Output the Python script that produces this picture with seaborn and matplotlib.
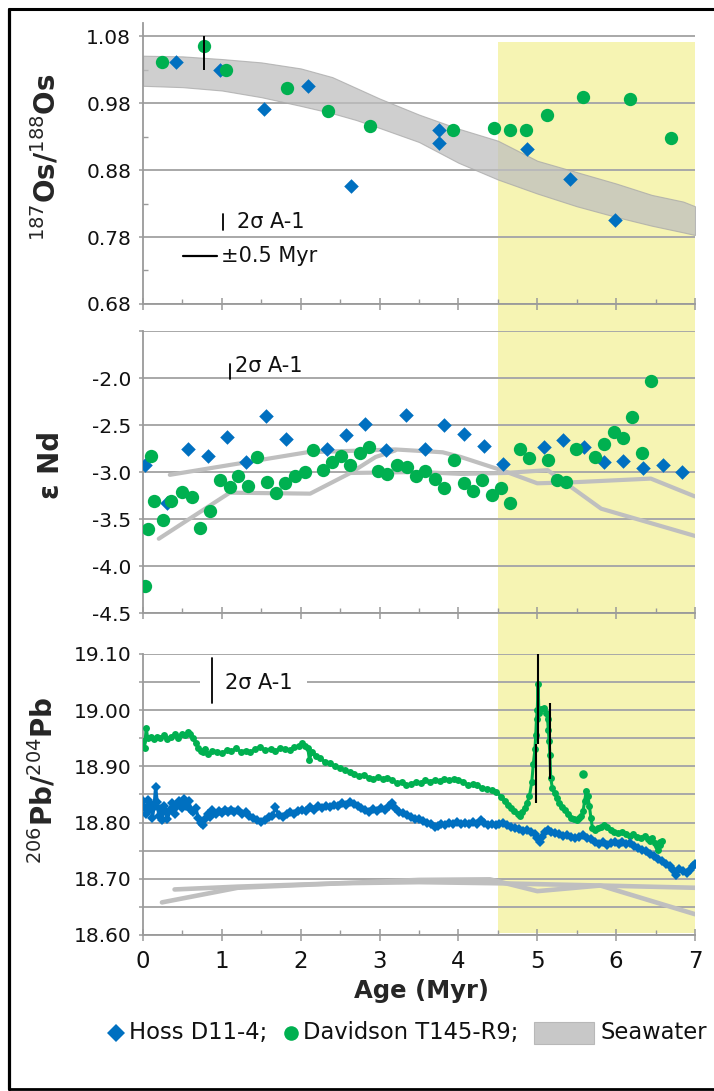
import numpy as np
import matplotlib
matplotlib.use("Agg")
import matplotlib.pyplot as plt
import seaborn as sns
from matplotlib.ticker import FixedLocator, FixedFormatter
from matplotlib.lines import Line2D
from matplotlib.patches import Rectangle
from matplotlib.transforms import blended_transform_factory
from matplotlib.offsetbox import HPacker, TextArea, DrawingArea, AnchoredOffsetbox

# ---------------- data ----------------
# 187Os/188Os
hoss_os_age = [0.42, 0.97, 1.53, 2.09, 2.64, 3.75, 3.75, 4.87, 5.42, 5.98]
hoss_os = [1.042, 1.030, 0.972, 1.005, 0.856, 0.940, 0.920, 0.911, 0.867, 0.806]
dav_os_age = [0.245, 0.77, 1.05, 1.82, 2.35, 2.875, 3.935, 4.45, 4.655, 4.855, 5.12, 5.58, 6.18, 6.69]
dav_os = [1.041, 1.066, 1.030, 1.003, 0.968, 0.946, 0.940, 0.943, 0.940, 0.940, 0.962, 0.989, 0.987, 0.928]
os_err_age = [0.77]
os_err_low = [1.030]
os_err_high = [1.080]
os_sw_age = [0.0, 0.5, 1.0, 1.5, 2.0, 2.4, 2.7, 3.0, 3.5, 4.0, 4.5, 5.0, 5.5, 6.0, 6.45, 6.85, 7.0]
os_sw_high = [1.051, 1.050, 1.046, 1.041, 1.032, 1.019, 1.003, 0.987, 0.963, 0.942, 0.924, 0.894,
              0.877, 0.860, 0.843, 0.833, 0.826]
os_sw_low = [1.006, 1.004, 0.999, 0.989, 0.976, 0.965, 0.955, 0.943, 0.922, 0.891, 0.866, 0.845,
             0.826, 0.810, 0.797, 0.787, 0.783]

# epsilon Nd
hoss_nd_age = [0.03, 0.30, 0.57, 0.82, 1.06, 1.31, 1.56, 1.81, 2.33, 2.58, 2.82, 3.08, 3.33,
               3.58, 3.82, 4.07, 4.32, 4.57, 5.08, 5.33, 5.59, 5.84, 6.09, 6.34, 6.59, 6.84]
hoss_nd = [-2.92, -3.33, -2.76, -2.83, -2.63, -2.89, -2.40, -2.65, -2.76, -2.61, -2.49, -2.77, -2.39,
           -2.75, -2.50, -2.60, -2.72, -2.91, -2.73, -2.66, -2.73, -2.89, -2.88, -2.96, -2.93, -3.00]
dav_nd_age = [0.02, 0.06, 0.10, 0.14, 0.25, 0.36, 0.49, 0.62, 0.72, 0.85, 0.97, 1.10, 1.21, 1.33,
              1.44, 1.57, 1.69, 1.80, 1.93, 2.05, 2.16, 2.28, 2.40, 2.51, 2.62, 2.75, 2.87, 2.98,
              3.10, 3.22, 3.35, 3.46, 3.58, 3.70, 3.82, 3.94, 4.07, 4.18, 4.30, 4.42, 4.54, 4.65,
              4.78, 4.90, 5.13, 5.25, 5.37, 5.49, 5.73, 5.85, 5.97, 6.09, 6.20, 6.33, 6.44]
dav_nd = [-4.21, -3.61, -2.83, -3.31, -3.51, -3.31, -3.21, -3.27, -3.60, -3.41, -3.09, -3.16, -3.04, -3.15,
          -2.84, -3.11, -3.22, -3.12, -3.04, -3.00, -2.77, -2.98, -2.89, -2.83, -2.92, -2.80, -2.73, -2.99,
          -3.02, -2.92, -2.95, -3.04, -2.99, -3.07, -3.17, -2.87, -3.12, -3.20, -3.09, -3.24, -3.17, -3.33,
          -2.75, -2.85, -2.87, -3.09, -3.11, -2.75, -2.84, -2.70, -2.57, -2.64, -2.42, -2.80, -2.03]
nd_sw_a_age = [0.34, 2.08, 3.20, 3.80, 4.03, 4.58, 5.00, 5.43, 6.44, 7.00]
nd_sw_a = [-3.03, -2.79, -2.76, -2.79, -2.84, -2.99, -3.12, -3.11, -3.07, -3.26]
nd_sw_b_age = [0.20, 1.10, 2.12, 2.63, 3.50, 4.03, 4.60, 5.13, 5.38, 5.81, 7.00]
nd_sw_b = [-3.71, -3.22, -3.23, -3.01, -3.00, -3.02, -3.01, -2.98, -3.13, -3.39, -3.68]
nd_sw_c_age = [2.63, 2.95, 3.20]
nd_sw_c = [-3.01, -2.84, -2.77]

# 206Pb/204Pb
dav_pb_age = [0.00, 0.02, 0.04, 0.06, 0.10, 0.14, 0.18, 0.22, 0.27, 0.31, 0.36, 0.40, 0.44, 0.49, 0.53,
              0.57, 0.60, 0.63, 0.67, 0.70, 0.73, 0.76, 0.79, 0.83, 0.88, 0.94, 1.00, 1.06, 1.12, 1.18,
              1.24, 1.30, 1.36, 1.42, 1.48, 1.55, 1.62, 1.68, 1.74, 1.80, 1.86, 1.92, 1.98, 2.02, 2.06,
              2.09, 2.11, 2.14, 2.19, 2.25, 2.31, 2.37, 2.43, 2.50, 2.56, 2.62, 2.68, 2.74, 2.80, 2.86,
              2.92, 2.98, 3.04, 3.10, 3.16, 3.22, 3.28, 3.34, 3.40, 3.46, 3.52, 3.58, 3.64, 3.70, 3.76,
              3.82, 3.88, 3.94, 4.00, 4.06, 4.12, 4.18, 4.24, 4.30, 4.36, 4.42, 4.48, 4.54, 4.59, 4.63,
              4.67, 4.71, 4.75, 4.78, 4.81, 4.84, 4.87, 4.90, 4.93, 4.95, 4.97, 4.98, 4.99, 5.00, 5.01,
              5.02, 5.05, 5.08, 5.11, 5.13, 5.14, 5.15, 5.16, 5.17, 5.19, 5.22, 5.25, 5.28, 5.31, 5.35,
              5.39, 5.43, 5.47, 5.50, 5.53, 5.56, 5.58, 5.60, 5.62, 5.64, 5.66, 5.68, 5.70, 5.73, 5.77,
              5.81, 5.85, 5.89, 5.93, 5.97, 6.02, 6.07, 6.12, 6.17, 6.22, 6.27, 6.32, 6.36, 6.40, 6.43,
              6.46, 6.49, 6.52, 6.55, 6.58, 6.56, 6.53]
dav_pb = [18.945, 18.933, 18.968, 18.950, 18.952, 18.948, 18.953, 18.950, 18.955, 18.949, 18.952, 18.957, 18.951, 18.958, 18.955,
          18.961, 18.958, 18.950, 18.942, 18.933, 18.927, 18.925, 18.930, 18.922, 18.928, 18.926, 18.923, 18.929, 18.927, 18.932,
          18.926, 18.928, 18.925, 18.931, 18.934, 18.929, 18.931, 18.927, 18.933, 18.931, 18.929, 18.934, 18.937, 18.941, 18.937,
          18.932, 18.912, 18.925, 18.918, 18.914, 18.908, 18.906, 18.900, 18.897, 18.893, 18.890, 18.886, 18.883, 18.885, 18.880,
          18.877, 18.881, 18.878, 18.880, 18.876, 18.870, 18.873, 18.866, 18.869, 18.872, 18.871, 18.875, 18.873, 18.876, 18.874,
          18.878, 18.875, 18.877, 18.876, 18.873, 18.867, 18.868, 18.866, 18.861, 18.860, 18.858, 18.855, 18.846, 18.838, 18.832,
          18.826, 18.821, 18.815, 18.812, 18.818, 18.826, 18.835, 18.847, 18.872, 18.905, 18.930, 18.955, 18.985, 19.000, 19.047,
          18.995, 19.002, 19.004, 18.995, 18.985, 18.965, 18.945, 18.920, 18.880, 18.862, 18.852, 18.843, 18.835, 18.828, 18.822,
          18.815, 18.809, 18.806, 18.804, 18.808, 18.812, 18.820, 18.838, 18.856, 18.848, 18.830, 18.808, 18.790, 18.786, 18.790,
          18.793, 18.795, 18.792, 18.786, 18.783, 18.781, 18.783, 18.779, 18.776, 18.779, 18.774, 18.772, 18.776, 18.770, 18.768,
          18.772, 18.764, 18.759, 18.760, 18.768, 18.766, 18.752]
dav_pb_iso_age = [5.58]
dav_pb_iso = [18.886]
hoss_pb_age = [0.00, 0.02, 0.04, 0.06, 0.08, 0.10, 0.12, 0.14, 0.16, 0.18, 0.20, 0.22, 0.24, 0.27, 0.29,
               0.31, 0.34, 0.37, 0.40, 0.43, 0.46, 0.49, 0.52, 0.55, 0.58, 0.61, 0.64, 0.67, 0.70, 0.73,
               0.76, 0.79, 0.82, 0.85, 0.88, 0.92, 0.96, 1.00, 1.04, 1.08, 1.12, 1.16, 1.20, 1.25, 1.30,
               1.35, 1.40, 1.45, 1.50, 1.55, 1.60, 1.64, 1.68, 1.72, 1.77, 1.82, 1.87, 1.92, 1.97, 2.02,
               2.07, 2.12, 2.17, 2.22, 2.27, 2.32, 2.37, 2.42, 2.47, 2.52, 2.57, 2.62, 2.67, 2.72, 2.77,
               2.82, 2.87, 2.92, 2.97, 3.02, 3.07, 3.12, 3.16, 3.20, 3.25, 3.30, 3.35, 3.40, 3.45, 3.50,
               3.55, 3.60, 3.65, 3.70, 3.74, 3.78, 3.83, 3.88, 3.93, 3.98, 4.03, 4.08, 4.13, 4.18, 4.23,
               4.28, 4.32, 4.37, 4.42, 4.47, 4.52, 4.57, 4.62, 4.67, 4.72, 4.77, 4.82, 4.87, 4.92, 4.97,
               5.00, 5.03, 5.06, 5.10, 5.14, 5.18, 5.23, 5.28, 5.33, 5.38, 5.43, 5.48, 5.53, 5.58, 5.63,
               5.68, 5.73, 5.78, 5.83, 5.88, 5.93, 5.98, 6.03, 6.08, 6.13, 6.18, 6.23, 6.28, 6.33, 6.38,
               6.43, 6.48, 6.53, 6.58, 6.63, 6.68, 6.72, 6.76, 6.80, 6.85, 6.90, 6.94, 6.97, 7.00]
hoss_pb = [18.838, 18.826, 18.815, 18.840, 18.822, 18.833, 18.809, 18.828, 18.864, 18.836, 18.812, 18.825, 18.804, 18.830, 18.818,
           18.806, 18.822, 18.834, 18.816, 18.829, 18.838, 18.826, 18.842, 18.830, 18.838, 18.823, 18.818, 18.826, 18.808, 18.800,
           18.795, 18.806, 18.816, 18.810, 18.822, 18.815, 18.820, 18.817, 18.822, 18.818, 18.823, 18.819, 18.823, 18.815, 18.818,
           18.812, 18.808, 18.805, 18.801, 18.804, 18.810, 18.812, 18.827, 18.813, 18.810, 18.815, 18.818, 18.816, 18.820, 18.823,
           18.820, 18.827, 18.823, 18.829, 18.826, 18.830, 18.828, 18.832, 18.829, 18.834, 18.831, 18.836, 18.833, 18.830, 18.826,
           18.822, 18.819, 18.824, 18.820, 18.826, 18.822, 18.830, 18.835, 18.826, 18.819, 18.817, 18.813, 18.810, 18.807, 18.806,
           18.803, 18.800, 18.797, 18.792, 18.794, 18.798, 18.796, 18.800, 18.797, 18.801, 18.798, 18.800, 18.797, 18.801, 18.798,
           18.804, 18.800, 18.796, 18.798, 18.795, 18.797, 18.799, 18.796, 18.792, 18.790, 18.788, 18.785, 18.787, 18.783, 18.779,
           18.772, 18.766, 18.775, 18.783, 18.786, 18.784, 18.781, 18.779, 18.776, 18.778, 18.774, 18.772, 18.775, 18.777, 18.773,
           18.770, 18.766, 18.762, 18.765, 18.760, 18.764, 18.766, 18.762, 18.765, 18.761, 18.763, 18.759, 18.755, 18.751, 18.749,
           18.744, 18.740, 18.736, 18.731, 18.727, 18.722, 18.716, 18.706, 18.718, 18.714, 18.711, 18.716, 18.722, 18.726]
pb_err_age = [5.01, 4.98, 5.16]
pb_err_low = [18.939, 18.835, 18.877]
pb_err_high = [19.100, 18.939, 19.013]
pb_sw_a_age = [0.40, 1.20, 2.50, 3.50, 4.40, 5.00, 5.80, 7.00]
pb_sw_a = [18.681, 18.686, 18.692, 18.698, 18.699, 18.678, 18.688, 18.684]
pb_sw_b_age = [0.24, 1.20, 2.50, 3.50, 4.50, 5.80, 7.00]
pb_sw_b = [18.658, 18.684, 18.692, 18.694, 18.692, 18.688, 18.637]

# axes ticks / labels
age_ticks = [0, 1, 2, 3, 4, 5, 6, 7]
age_minor = [0.5, 1.5, 2.5, 3.5, 4.5, 5.5, 6.5]
age_labels = ["0", "1", "2", "3", "4", "5", "6", "7"]
os_ticks = [0.68, 0.78, 0.88, 0.98, 1.08]
os_minor = [0.73, 0.83, 0.93, 1.03]
os_labels = ["0.68", "0.78", "0.88", "0.98", "1.08"]
nd_ticks = [-4.5, -4.0, -3.5, -3.0, -2.5, -2.0, -1.5]
nd_labels = ["-4.5", "-4.0", "-3.5", "-3.0", "-2.5", "-2.0", ""]
pb_ticks = [18.60, 18.65, 18.70, 18.75, 18.80, 18.85, 18.90, 18.95, 19.00, 19.05, 19.10]
pb_labels = ["18.60", "", "18.70", "", "18.80", "", "18.90", "", "19.00", "", "19.10"]
highlight_age = (4.5, 7.0)

# ---------------- style ----------------
sns.set_style("white")
plt.rcParams["font.family"] = ["DejaVu Sans"]
plt.rcParams["mathtext.fontset"] = "dejavusans"

BLUE = "#0070c0"
GREEN = "#00b050"
SEA = "#bfbfbf"
YELLOW = "#f6f4b3"
GRID = "#a8a8a8"
AXC = "#9a9a9a"

fig = plt.figure(figsize=(7.14, 10.91), dpi=100)
ax_os = fig.add_axes([0.2003, 0.7214, 0.7731, 0.2576])
ax_nd = fig.add_axes([0.2003, 0.4381, 0.7731, 0.2585])
ax_pb = fig.add_axes([0.2003, 0.1430, 0.7731, 0.2576])


def style_axes(ax, ylim, ticks, labels, minor=None, show_x=False):
    ax.set_facecolor("none")
    ax.set_xlim(0, 7)
    ax.set_ylim(*ylim)
    for s in ["top", "right"]:
        ax.spines[s].set_visible(False)
    for s in ["left", "bottom"]:
        ax.spines[s].set_color(AXC)
        ax.spines[s].set_linewidth(1.3)
    ax.xaxis.set_major_locator(FixedLocator(age_ticks))
    ax.xaxis.set_major_formatter(FixedFormatter(age_labels))
    ax.xaxis.set_minor_locator(FixedLocator(age_minor))
    ax.yaxis.set_major_locator(FixedLocator(ticks))
    ax.yaxis.set_major_formatter(FixedFormatter(labels))
    if minor is not None:
        ax.yaxis.set_minor_locator(FixedLocator(minor))
    ax.tick_params(axis="x", which="major", bottom=True, direction="inout", length=9, width=1.1,
                   color=AXC, labelsize=16.5, pad=6, labelbottom=show_x, labelcolor="#111111")
    ax.tick_params(axis="x", which="minor", bottom=True, direction="in", length=3.5, width=1.0, color=AXC)
    ax.tick_params(axis="y", which="major", left=True, direction="out", length=3, width=1.1,
                   color=AXC, labelsize=14.5, pad=5.5, labelcolor="#111111")
    ax.tick_params(axis="y", which="minor", left=True, direction="in", length=3.5, width=1.0, color=AXC)
    ax.grid(axis="y", which="major", color=GRID, linewidth=1.4)
    ax.grid(axis="x", visible=False)
    ax.set_axisbelow(True)
    ax.set_xlabel("")


style_axes(ax_os, (0.68, 1.10), os_ticks, os_labels, minor=os_minor)
style_axes(ax_nd, (-4.5, -1.5), nd_ticks, nd_labels)
style_axes(ax_pb, (18.60, 19.10), pb_ticks, pb_labels, show_x=True)

# ---------------- Os panel ----------------
ax_os.fill_between(os_sw_age, os_sw_low, os_sw_high, color=SEA, alpha=0.75,
                   edgecolor="#a8a8a8", linewidth=0.8, zorder=1.5)
sns.scatterplot(x=hoss_os_age, y=hoss_os, ax=ax_os, marker="D", s=55, color=BLUE,
                linewidth=0, zorder=3)
sns.scatterplot(x=dav_os_age, y=dav_os, ax=ax_os, marker="o", s=92, color=GREEN,
                linewidth=0, zorder=3.2)
ax_os.vlines(os_err_age, os_err_low, os_err_high, color="black", linewidth=1.4, zorder=4)
ax_os.plot([1.01, 1.01], [0.790, 0.815], color="black", lw=1.3)
ax_os.text(1.19, 0.8025, "2σ A-1", fontsize=15, va="center", ha="left", color="#111111")
ax_os.plot([0.51, 0.94], [0.751, 0.751], color="black", lw=1.6)
ax_os.text(0.99, 0.751, "±0.5 Myr", fontsize=15, va="center", ha="left", color="#111111")

# ---------------- Nd panel ----------------
for xa, ya in [(nd_sw_a_age, nd_sw_a), (nd_sw_b_age, nd_sw_b), (nd_sw_c_age, nd_sw_c)]:
    sns.lineplot(x=xa, y=ya, ax=ax_nd, color=SEA, linewidth=3.0, sort=False,
                 estimator=None, zorder=2)
sns.scatterplot(x=hoss_nd_age, y=hoss_nd, ax=ax_nd, marker="D", s=55, color=BLUE,
                linewidth=0, zorder=3)
sns.scatterplot(x=dav_nd_age, y=dav_nd, ax=ax_nd, marker="o", s=92, color=GREEN,
                linewidth=0, zorder=3.2)
ax_nd.plot([1.10, 1.10], [-2.007, -1.848], color="black", lw=1.3)
ax_nd.text(1.17, -1.87, "2σ A-1", fontsize=15, va="center", ha="left", color="#111111")

# ---------------- Pb panel ----------------
for xa, ya in [(pb_sw_a_age, pb_sw_a), (pb_sw_b_age, pb_sw_b)]:
    sns.lineplot(x=xa, y=ya, ax=ax_pb, color=SEA, linewidth=3.3, sort=False,
                 estimator=None, zorder=2)
sns.lineplot(x=dav_pb_age, y=dav_pb, ax=ax_pb, color=GREEN, linewidth=2.2, marker="o",
             markersize=5.0, markeredgewidth=0, markeredgecolor=GREEN, sort=False,
             estimator=None, zorder=3)
sns.scatterplot(x=dav_pb_iso_age, y=dav_pb_iso, ax=ax_pb, marker="o", s=38, color=GREEN,
                linewidth=0, zorder=3)
sns.lineplot(x=hoss_pb_age, y=hoss_pb, ax=ax_pb, color=BLUE, linewidth=2.3, marker="D",
             markersize=4.6, markeredgewidth=0, markeredgecolor=BLUE, sort=False,
             estimator=None, zorder=3.3)
ax_pb.vlines(pb_err_age, pb_err_low, pb_err_high, color="black", linewidth=1.5, zorder=4)
ax_pb.add_patch(Rectangle((0.72, 19.038), 1.36, 0.024, facecolor="white", edgecolor="none", zorder=1))
ax_pb.plot([0.88, 0.88], [19.013, 19.093], color="black", lw=1.3, zorder=2)
ax_pb.text(1.04, 19.049, "2σ A-1", fontsize=15, va="center", ha="left", color="#111111", zorder=2)

# axis labels
ax_os.set_ylabel("$^{187}$Os/$^{188}$Os", fontsize=20, fontweight="bold")
ax_nd.set_ylabel("ε Nd", fontsize=20, fontweight="bold")
ax_pb.set_ylabel("$^{206}$Pb/$^{204}$Pb", fontsize=20, fontweight="bold")
ax_os.yaxis.set_label_coords(-0.147, 0.523)
ax_nd.yaxis.set_label_coords(-0.141, 0.525)
ax_pb.yaxis.set_label_coords(-0.154, 0.552)
ax_pb.set_xlabel("Age (Myr)", fontsize=17.5, fontweight="bold")
ax_pb.xaxis.set_label_coords(0.505, -0.155)

# highlight span across the three panels
to_fig = fig.transFigure.inverted()
y_top = to_fig.transform(ax_os.transData.transform((0, 1.072)))[1]
y_bot = to_fig.transform(ax_pb.transData.transform((0, 18.603)))[1]
blend = blended_transform_factory(ax_pb.transData, fig.transFigure)
fig.add_artist(Rectangle((highlight_age[0], y_bot), highlight_age[1] - highlight_age[0], y_top - y_bot,
                         transform=blend, facecolor=YELLOW, edgecolor="none", zorder=-1))

# legend
def marker_box(marker, color, ms):
    da = DrawingArea(12, 12, 0, 0)
    da.add_artist(Line2D([6], [6], marker=marker, color=color, markersize=ms,
                         markeredgewidth=0, linestyle="none"))
    return da

sea_box = DrawingArea(43, 16, 0, 0)
sea_box.add_artist(Rectangle((0, 0), 43, 16, facecolor="#c8c8c8", edgecolor="#b8b8b8", lw=0.8))
tp = dict(fontsize=16.3, color="#111111")
items = [
    HPacker(children=[marker_box("D", BLUE, 9), TextArea("Hoss D11-4;", textprops=tp)], sep=3, align="center"),
    HPacker(children=[marker_box("o", GREEN, 10.5), TextArea("Davidson T145-R9;", textprops=tp)], sep=3, align="center"),
    HPacker(children=[sea_box, TextArea("Seawater", textprops=tp)], sep=5, align="center"),
]
pack = HPacker(children=items, sep=11, align="center")
fig.add_artist(AnchoredOffsetbox(loc="center", child=pack, frameon=False, pad=0,
                                 bbox_to_anchor=(0.571, 0.0532), bbox_transform=fig.transFigure))

# frame around the figure
W, H = 714, 1091
fig.add_artist(Line2D([9 / W, 9 / W], [1 - 9 / H, 1 - 1089 / H], transform=fig.transFigure, color="black", lw=2.3))
fig.add_artist(Line2D([9 / W, 1.0], [1 - 9 / H, 1 - 9 / H], transform=fig.transFigure, color="black", lw=2.2))
fig.add_artist(Line2D([9 / W, 1.0], [1 - 1089 / H, 1 - 1089 / H], transform=fig.transFigure, color="black", lw=2.0))

fig.savefig("out.png", dpi=100)
